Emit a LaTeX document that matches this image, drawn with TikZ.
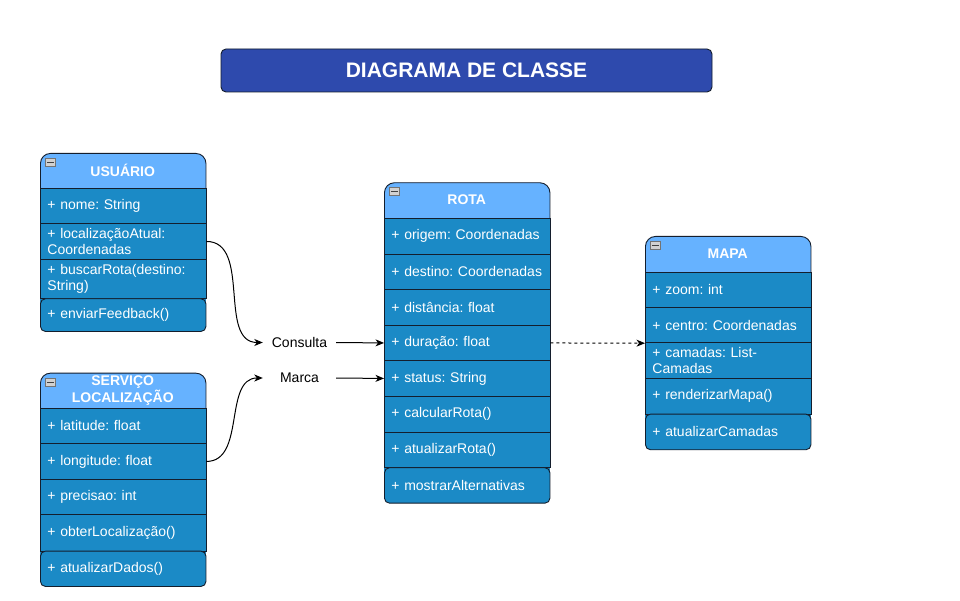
\documentclass[tikz,border=0pt]{standalone}
\usepackage{fontspec}
\setmainfont{Liberation Sans}
\usetikzlibrary{arrows.meta}
\frenchspacing
\hyphenpenalty=10000
\exhyphenpenalty=10000
\definecolor{hdrblue}{RGB}{102,178,255}
\definecolor{rowblue}{RGB}{27,138,198}
\definecolor{titleblue}{RGB}{46,74,173}
\definecolor{linec}{RGB}{20,30,45}
\tikzset{
  crow/.style={draw=linec, line width=0.9pt, fill=rowblue, anchor=north west,
    minimum width=165.5pt, text width=151.5pt, inner xsep=7pt, inner ysep=0pt,
    align=left, text=white, font=\fontsize{14}{15.5}\selectfont},
  crowlast/.style={crow, rounded corners=5pt},
  chead/.style={draw=linec, line width=0.9pt, fill=hdrblue, anchor=north west,
    minimum width=165.5pt, inner sep=0pt, rounded corners=10pt},
  cheadtext/.style={text=white, align=center, inner sep=0pt,
    font=\bfseries\fontsize{14}{17}\selectfont},
  collapse/.style={draw=black!55, fill=black!18, line width=0.6pt,
    minimum width=10.5pt, minimum height=8pt, inner sep=0pt,
    path picture={\draw[black!75, line width=1.3pt]
      ([xshift=2pt]path picture bounding box.west) --
      ([xshift=-2pt]path picture bounding box.east);}},
  lbl/.style={minimum width=73pt, inner sep=0pt, font=\fontsize{14}{16}\selectfont},
  conn/.style={draw=black, line width=1pt, -{Stealth[length=8.5pt,width=7pt,inset=2.5pt]}},
}
% name, x, top, header bottom, class bottom, title
\newcommand\classhead[6]{%
  \fill[rowblue] (#2,#4) rectangle ({#2+165.5},{#5-6});
  \node[chead, minimum height={#4-#3+12}] (#1) at (#2,#3) {};
  \node[cheadtext] (#1t) at ({#2+82.75},{(#3+#4)/2}) {#6};
  \node[collapse] (#1i) at ({#2+10.5},{#3+9.5}) {};
}
% name, x, top, bottom, text
\newcommand\classrow[5]{%
  \node[crow, minimum height={#4-#3}] (#1) at (#2,#3) {#5};}
\newcommand\classlast[5]{%
  \node[crowlast, minimum height={#4-#3}] (#1) at (#2,#3) {#5};}
\begin{document}
\begin{tikzpicture}[x=1pt,y=-1pt]
\useasboundingbox (0,0) rectangle (960,601);
\fill[white] (0,0) rectangle (960,601);

% title
\node[draw=linec, line width=0.9pt, fill=titleblue, rounded corners=5pt,
  minimum width=491pt, minimum height=43pt, inner sep=0pt, text=white,
  font=\bfseries\fontsize{21}{24}\selectfont] (title) at (466.5,70.5) {DIAGRAMA DE CLASSE};

% USUARIO
\classhead{u}{40}{153}{188}{331}{USUÁRIO}
\classrow{u1}{40}{188}{223.3}{+ nome: String}
\classrow{u2}{40}{223.3}{258.7}{+ localizaçãoAtual:\\Coordenadas}
\classrow{u3}{40}{258.7}{298.3}{+ buscarRota(destino:\\String)}
\classlast{u4}{40}{298.3}{331}{+ enviarFeedback()}

% SERVICO LOCALIZACAO
\classhead{s}{40}{372.7}{407.7}{586}{SERVIÇO\\LOCALIZAÇÃO}
\classrow{s1}{40}{407.7}{443.3}{+ latitude: float}
\classrow{s2}{40}{443.3}{478.7}{+ longitude: float}
\classrow{s3}{40}{478.7}{514.3}{+ precisao: int}
\classrow{s4}{40}{514.3}{550.7}{+ obterLocalização()}
\classlast{s5}{40}{550.7}{586}{+ atualizarDados()}

% ROTA
\classhead{r}{384}{182.3}{217.7}{502.7}{ROTA}
\classrow{r1}{384}{217.7}{253.7}{+ origem: Coordenadas}
\classrow{r2}{384}{253.7}{289}{+ destino: Coordenadas}
\classrow{r3}{384}{289}{324.7}{+ distância: float}
\classrow{r4}{384}{324.7}{360.3}{+ duração: float}
\classrow{r5}{384}{360.3}{395.7}{+ status: String}
\classrow{r6}{384}{395.7}{431.7}{+ calcularRota()}
\classrow{r7}{384}{431.7}{467.3}{+ atualizarRota()}
\classlast{r8}{384}{467.3}{502.7}{+ mostrarAlternativas}

% MAPA
\classhead{m}{645}{236}{271.7}{449.3}{MAPA}
\classrow{m1}{645}{271.7}{307}{+ zoom: int}
\classrow{m2}{645}{307}{342.3}{+ centro: Coordenadas}
\classrow{m3}{645}{342.3}{378}{+ camadas: List-\\Camadas}
\classrow{m4}{645}{378}{413.7}{+ renderizarMapa()}
\classlast{m5}{645}{413.7}{449.3}{+ atualizarCamadas}

% labels
\node[lbl] (cons) at (299.5,342.5) {Consulta};
\node[lbl] (marca) at (299.5,378) {Marca};

% connectors
\draw[conn] (u2.east) to[out=0,in=180] (cons.west);
\draw[conn] (cons.east) -- (r4.west);
\draw[conn] (s2.east) to[out=0,in=180] (marca.west);
\draw[conn] (marca.east) -- (r5.west);
\draw[conn, dash pattern=on 3pt off 3pt] (r4.east) -- (m2.south west);
\end{tikzpicture}
\end{document}
